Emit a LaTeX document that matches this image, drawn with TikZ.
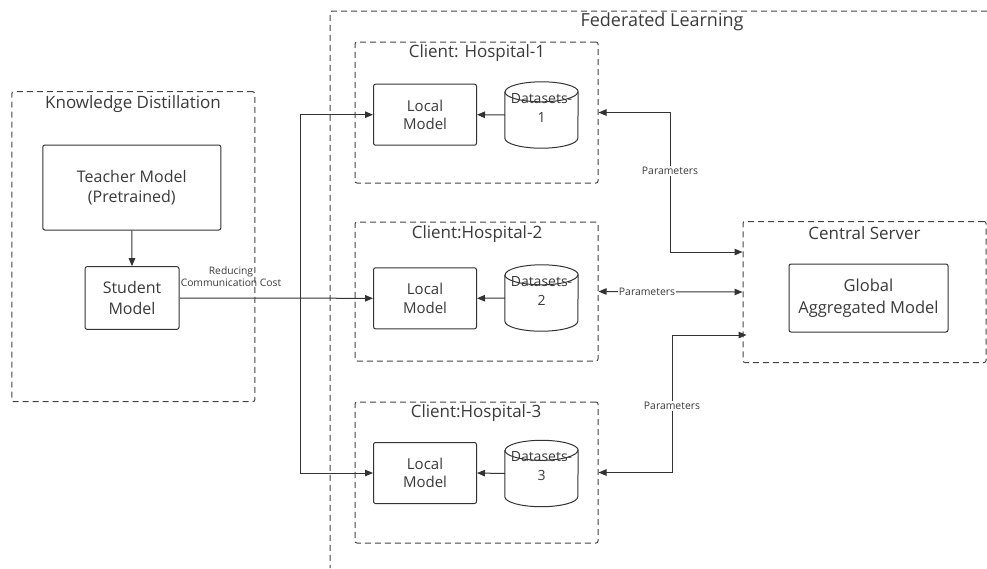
\documentclass[tikz,border=0pt]{standalone}
\usepackage{fontspec}
\setmainfont{Open Sans}
\usetikzlibrary{arrows.meta,calc}
\definecolor{linec}{HTML}{333333}
\definecolor{dashc}{HTML}{444444}
\definecolor{textc}{HTML}{3A3A3A}
\begin{document}
\begin{tikzpicture}[x=1pt,y=1pt,
  solidbox/.style={draw=linec, line width=1pt, rounded corners=2pt, fill=white, align=center, text=textc, inner sep=0pt},
  dashbox/.style={draw=dashc, line width=1pt, dash pattern=on 6pt off 4pt, rounded corners=2pt, inner sep=0pt},
  arr/.style={draw=linec, line width=1pt, -{Triangle[length=8pt,width=6.5pt]}},
  dblarr/.style={draw=linec, line width=1pt, {Triangle[length=8pt,width=6.5pt]}-{Triangle[length=8pt,width=6.5pt]}},
  plabel/.style={fill=white, inner sep=1pt, font=\fontsize{10.4}{12}\selectfont, text=textc},
  ttl/.style={font=\fontsize{17}{20}\selectfont, text=textc, inner sep=0pt},
  lmbox/.style={solidbox, minimum width=103pt, minimum height=61pt, font=\fontsize{15}{18.5}\selectfont},
  dsbox/.style={minimum width=73pt, minimum height=66pt, inner sep=0pt},
  dstext/.style={align=center, text=textc, font=\fontsize{14}{19}\selectfont, inner sep=0pt},
  cyl/.style={draw=linec, line width=1pt, fill=white}
]
\useasboundingbox (0,0) rectangle (987,-568);

% dashed containers
\draw[dashbox] (987,-11) -- (330,-11) -- (330,-568);
\node[ttl, font=\fontsize{18}{20}\selectfont] (flt) at (662,-22) {Federated Learning};

\node[dashbox, minimum width=243pt, minimum height=310pt] (kd) at (133.3,-246.7) {};
\node[ttl] (kdt) at (133,-104) {Knowledge Distillation};

\node[dashbox, minimum width=243pt, minimum height=141pt] (c1) at (476.5,-112.5) {};
\node[ttl] (c1t) at (477,-53) {Client: Hospital-1};
\node[dashbox, minimum width=243pt, minimum height=139pt] (c2) at (476.5,-291.5) {};
\node[ttl] (c2t) at (477,-234) {Client:Hospital-2};
\node[dashbox, minimum width=243pt, minimum height=141pt] (c3) at (476.5,-472.5) {};
\node[ttl] (c3t) at (476,-413) {Client:Hospital-3};

\node[dashbox, minimum width=243pt, minimum height=141pt] (srv) at (864.5,-292) {};
\node[ttl] (srvt) at (864.5,-233) {Central Server};

% solid boxes
\node[solidbox, minimum width=178pt, minimum height=85pt, font=\fontsize{16}{20}\selectfont] (teacher) at (131.8,-187.5) {Teacher Model\\(Pretrained)};
\node[solidbox, minimum width=94pt, minimum height=62.6pt, font=\fontsize{16}{21}\selectfont] (student) at (132,-298) {Student\\Model};
\node[solidbox, minimum width=159pt, minimum height=68pt, font=\fontsize{16.5}{22}\selectfont] (global) at (868.5,-298) {Global\\Aggregated Model};

\node[lmbox] (lm1) at (425,-114.7) {Local\\Model};
\node[lmbox] (lm2) at (425,-298.3) {Local\\Model};
\node[lmbox] (lm3) at (425,-473) {Local\\Model};

% cylinders
\foreach \n/\yy/\k in {d1/-115/1, d2/-298/2, d3/-473.5/3}{
  \node[dsbox] (\n) at (541.5,\yy) {};
  \draw[cyl] ($(\n.north west)+(0,-10)$) -- ($(\n.south west)+(0,10)$)
     arc[start angle=180, end angle=360, x radius=36.5, y radius=10]
     -- ($(\n.north east)+(0,-10)$)
     arc[start angle=0, end angle=180, x radius=36.5, y radius=10];
  \draw[cyl, fill=none] ($(\n.north west)+(0,-10)$)
     arc[start angle=180, end angle=360, x radius=36.5, y radius=10];
  \node[dstext] (\n t) at ($(\n.center)+(0,7)$) {Datasets-\\\k};
}

% arrows inside clients
\draw[arr] (d1.west) -- (lm1.east);
\draw[arr] (d2.west) -- (lm2.east);
\draw[arr] (d3.west) -- (lm3.east);

\draw[arr] (teacher.south) -- (student.north);

% distribution from student
\coordinate (j) at (300,-298);
\draw[arr] (student.east) -- (lm2.west);
\draw[arr] (j) |- (lm1.west);
\draw[arr] (j) |- (lm3.west);
\node[align=center, font=\fontsize{10.3}{12.5}\selectfont, text=textc, inner sep=0pt] (rcc) at (231,-276.5) {Reducing\\Communication Cost};

% parameters
\draw[dblarr] (c1.east) -- (670,-112.5) -- (670,-252) -- ($(srv.west)+(0,40)$);
\node[plabel] (p1) at (670,-171) {Parameters};
\draw[dblarr] (c2.east) -- (srv.west);
\node[plabel] (p2) at (647,-292) {Parameters};
\draw[dblarr] (c3.east) -- (672,-472.5) -- (672,-335) -- ($(srv.west)+(4,-43)$);
\node[plabel] (p3) at (672,-406) {Parameters};
\end{tikzpicture}
\end{document}
